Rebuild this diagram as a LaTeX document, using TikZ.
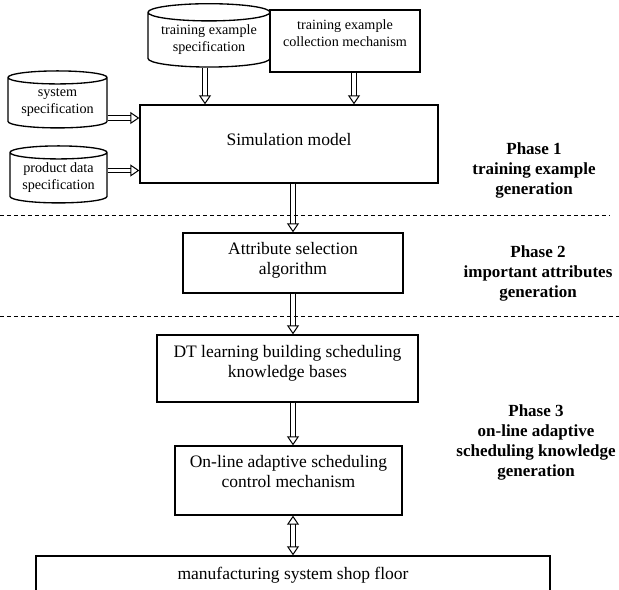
\documentclass[tikz,border=0pt]{standalone}
\usepackage{fontspec}
\setmainfont{Liberation Serif}
\usetikzlibrary{arrows.meta, shapes.geometric, positioning}

\tikzset{
  box/.style={draw, line width=0.8pt, align=center, inner sep=0pt,
    font=\fontsize{10.5}{12}\selectfont},
  smallbox/.style={box, font=\fontsize{8.5}{10.2}\selectfont},
  store/.style={draw, line width=0.8pt, cylinder, shape border rotate=90,
    aspect=0.18, align=center, inner sep=0pt,
    font=\fontsize{8.5}{10.2}\selectfont},
  hollowtip/.tip={Triangle[open, length=5.4pt, width=7.2pt]},
  flow/.style={draw, double, line width=0.6pt, double distance=2.2pt, -hollowtip},
  phase/.style={align=center, font=\fontsize{10.2}{12}\selectfont\bfseries},
  sep/.style={line width=0.6pt, dash pattern=on 2.4pt off 1.8pt}
}

\begin{document}
\begin{tikzpicture}[x=0.6pt, y=-0.6pt]
  \clip (0,0) rectangle (619,590);

  % phase 1: inputs and simulation
  \node[box, minimum width=178.8pt, minimum height=46.8pt, text depth=6pt]
    (simbox) at (289,144) {Simulation model};
  \node[smallbox, minimum width=90pt, minimum height=37.2pt, text depth=10pt]
    (collect) at (345,41) {training example\\collection mechanism};
  \node[store, minimum width=73.2pt, minimum height=38pt]
    (trainspec) at (209,40) {training example\\specification};
  \node[store, minimum width=59.4pt, minimum height=34.2pt]
    (syscyl) at (57.5,103) {system\\specification};
  \node[store, minimum width=58.2pt, minimum height=34.2pt]
    (prodcyl) at (58.5,178) {product data\\specification};

  % phase 2 and 3 boxes
  \node[box, minimum width=132pt, minimum height=36pt, text depth=6pt]
    (attrbox) at (293,263) {Attribute selection\\algorithm};
  \node[box, minimum width=156.6pt, minimum height=40.2pt, text depth=9pt]
    (dtbox) at (287.5,368.5) {DT learning building scheduling\\knowledge bases};
  \node[box, minimum width=136.2pt, minimum height=41.4pt, text depth=11pt]
    (onlinebox) at (288.5,480.5) {On-line adaptive scheduling\\control mechanism};
  \node[box, minimum width=308.4pt, minimum height=22.8pt]
    (floor) at (293,575) {manufacturing system shop floor};

  % connectors
  \draw[flow] ([xshift=-2.4pt]trainspec.south) -- ([xshift=-2.4pt]trainspec.south |- simbox.north);
  \draw[flow] ([xshift=5.4pt]collect.south) -- ([xshift=5.4pt]collect.south |- simbox.north);
  \draw[flow] ([yshift=-9pt]syscyl.east) -- ([yshift=-9pt]syscyl.east -| simbox.west);
  \draw[flow] ([yshift=4.5pt]prodcyl.east) -- ([yshift=4.5pt]prodcyl.east -| simbox.west);
  \draw[flow] (simbox.south -| attrbox.north) -- (attrbox.north);
  \draw[flow] (attrbox.south) -- (attrbox.south |- dtbox.north);
  \draw[flow] (dtbox.south -| floor.north) -- (onlinebox.north -| floor.north);
  \draw[flow, hollowtip-hollowtip] (onlinebox.south -| floor.north) -- (floor.north);

  % phase borders
  \draw[sep] (0,216) -- (610,216);
  \draw[sep] (0,317) -- (619,317);

  % phase labels
  \node[phase] (phaseone) at (534,170) {Phase 1\\training example\\generation};
  \node[phase] (phasetwo) at (538,273) {Phase 2\\important attributes\\generation};
  \node[phase] (phasethree) at (536,442) {Phase 3\\on-line adaptive\\scheduling knowledge\\generation};
\end{tikzpicture}
\end{document}
